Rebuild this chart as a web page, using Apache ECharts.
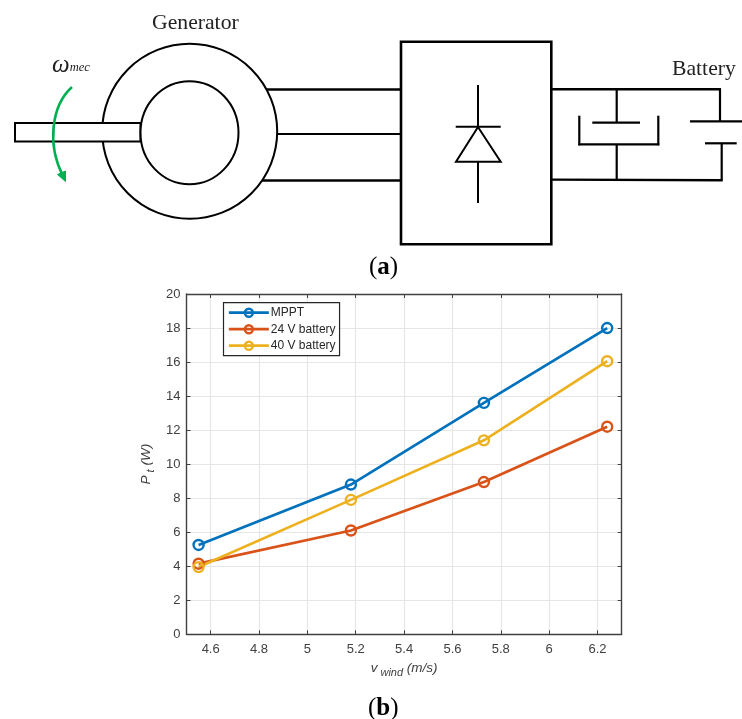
<!DOCTYPE html>
<html>
<head>
<meta charset="utf-8">
<style>html,body{margin:0;padding:0;background:#fff}#c{width:742px;height:719px}</style>
<script src="https://cdn.jsdelivr.net/npm/echarts@6/dist/echarts.min.js"></script>
</head>
<body>
<div id="c"></div>
<script>
const windSpeed = [4.55, 5.18, 5.73, 6.24];
const mppt = [5.25, 8.8, 13.6, 18.0];
const battery24 = [4.15, 6.1, 8.95, 12.2];
const battery40 = [3.95, 7.9, 11.4, 16.05];
const xTicks = [4.6, 4.8, 5, 5.2, 5.4, 5.6, 5.8, 6, 6.2];
const seriesNames = ['MPPT', '24 V battery', '40 V battery'];
const colors = ['#0072bd', '#d95319', '#edb120'];

const pair = ys => windSpeed.map((x, i) => [x, ys[i]]);
const makeSeries = (name, ys, color) => ({
  name, type: 'line', data: pair(ys), xAxisIndex: 0, yAxisIndex: 0,
  symbol: 'circle', symbolSize: 10, showSymbol: true,
  lineStyle: { color, width: 2.7 },
  itemStyle: { color: 'rgba(255,255,255,0)', borderColor: color, borderWidth: 2.4 },
  emphasis: { disabled: true }, animation: false
});

const ink = '#000';
const seg = (x1, y1, x2, y2, w) => ({ type: 'line', shape: { x1, y1, x2, y2 }, style: { stroke: ink, lineWidth: w || 2.2 }, silent: true });
const diagram = [
  seg(262, 89.5, 401, 89.5, 2.4), seg(276, 134, 401, 134, 2.2), seg(262, 180.5, 401, 180.5, 2.4),
  { type: 'circle', shape: { cx: 189.7, cy: 131.3, r: 87.5 }, style: { fill: '#fff', stroke: ink, lineWidth: 2 }, silent: true },
  { type: 'rect', shape: { x: 15, y: 123, width: 125.5, height: 18.5 }, style: { fill: '#fff', stroke: ink, lineWidth: 2 }, silent: true },
  { type: 'ellipse', shape: { cx: 189.5, cy: 132.7, rx: 49, ry: 51.5 }, style: { fill: '#fff', stroke: ink, lineWidth: 2 }, silent: true },
  { type: 'rect', shape: { x: 401, y: 41.7, width: 150.3, height: 202.6 }, style: { fill: '#fff', stroke: ink, lineWidth: 2.6 }, silent: true },
  seg(478, 85, 478, 127, 2), seg(455.7, 126.7, 500.7, 126.7, 2), seg(478, 161.7, 478, 203, 2),
  { type: 'polygon', shape: { points: [[478, 127], [456, 161.7], [500.7, 161.7]] }, style: { fill: 'none', stroke: ink, lineWidth: 2 }, silent: true },
  seg(551, 89.3, 721, 89.3, 2.4), seg(720, 89.3, 720, 121.3, 2.2), seg(690, 121.3, 742, 121.3, 2.2),
  seg(705, 143.3, 736.7, 143.3, 2.2), seg(721.7, 143.3, 721.7, 180.3, 2.2), seg(551, 179.6, 722.7, 180.3, 2.4),
  seg(616.7, 89.3, 616.7, 122.7, 2.2), seg(592.3, 122.7, 640, 122.7, 2.2),
  seg(579.3, 115.7, 579.3, 145.3, 2.2), seg(578.3, 144.3, 659.3, 144.3, 2.2), seg(658.3, 115.7, 658.3, 145.3, 2.2),
  seg(616.7, 144.3, 616.7, 180, 2.2),
  { type: 'bezierCurve', shape: { x1: 72, y1: 87, cpx1: 51, cpy1: 106, cpx2: 47, cpy2: 145, x2: 63, y2: 176 }, style: { fill: 'none', stroke: '#00b050', lineWidth: 2.6 }, silent: true, z: 5 },
  { type: 'polygon', shape: { points: [[65.5, 181.5], [57.5, 174.5], [65.5, 171]] }, style: { fill: '#00b050', stroke: '#00b050', lineWidth: 1 }, silent: true, z: 5 },
  { type: 'text', x: 152, y: 12, style: { text: 'Generator', font: '21.7px "Liberation Serif"', fill: '#222' }, silent: true },
  { type: 'text', x: 672, y: 58, style: { text: 'Battery', font: '21.7px "Liberation Serif"', fill: '#222' }, silent: true },
  { type: 'text', x: 52, y: 53, style: { text: '{w|ω}{m|mec}', rich: {
      w: { font: 'italic 25px "Liberation Serif"', fill: '#222' },
      m: { font: 'italic 12.5px "Liberation Serif"', fill: '#222', padding: [5, 0, 0, 0] } } }, silent: true },
  { type: 'text', x: 369, y: 255, style: { text: '{p|(}{b|a}{p|)}', rich: {
      p: { font: '25px "Liberation Serif"', fill: '#000' },
      b: { font: 'bold 25px "Liberation Serif"', fill: '#000' } } }, silent: true },
  { type: 'text', x: 368, y: 696, style: { text: '{p|(}{b|b}{p|)}', rich: {
      p: { font: '25px "Liberation Serif"', fill: '#000' },
      b: { font: 'bold 25px "Liberation Serif"', fill: '#000' } } }, silent: true }
];

const axisInk = '#404040';
const gridLine = { show: true, lineStyle: { color: '#e6e6e6', width: 1.2 } };
const sharedAxis = { axisLine: { show: true, onZero: false, lineStyle: { color: axisInk, width: 1.4 } } };
const nameRich = {
  i: { fontFamily: 'Liberation Sans', fontStyle: 'italic', fontSize: 13.5, color: axisInk },
  s: { fontFamily: 'Liberation Sans', fontStyle: 'italic', fontSize: 11, color: axisInk, padding: [9, 0, 0, 0] }
};

const chart = echarts.init(document.getElementById('c'), null, { renderer: 'canvas' });
chart.setOption({
  backgroundColor: '#fff',
  animation: false,
  graphic: diagram,
  grid: { left: 186.5, right: 120.3, top: 294, bottom: 84.7, containLabel: false },
  legend: {
    show: true, left: 223.5, top: 302.7, orient: 'vertical',
    data: seriesNames,
    itemWidth: 40, itemHeight: 10, itemGap: 4.5,
    padding: [4, 4, 4, 4],
    backgroundColor: '#fff', borderColor: '#262626', borderWidth: 1.2, borderRadius: 0,
    lineStyle: { width: 2.7 },
    itemStyle: { borderWidth: 2.4 },
    textStyle: { fontFamily: 'Liberation Sans', fontSize: 12, color: '#262626', padding: [0, 0, 0, -3] },
    selectedMode: false
  },
  xAxis: [
    { type: 'value', position: 'bottom', min: 4.5, max: 6.3, ...sharedAxis,
      name: '{i|v}{s| wind}{i| (m/s)}', nameLocation: 'middle', nameGap: 24, nameMoveOverlap: false, nameTextStyle: { rich: nameRich },
      axisTick: { show: true, inside: true, length: 4, lineStyle: { color: axisInk }, customValues: xTicks },
      axisLabel: { show: true, customValues: xTicks, margin: 9, fontFamily: 'Liberation Sans', fontSize: 13, color: axisInk, showMinLabel: true, showMaxLabel: true },
      splitLine: gridLine },
    { type: 'value', position: 'top', min: 4.5, max: 6.3, ...sharedAxis,
      axisTick: { show: true, inside: true, length: 4, lineStyle: { color: axisInk }, customValues: xTicks },
      axisLabel: { show: false }, splitLine: { show: false } }
  ],
  yAxis: [
    { type: 'value', position: 'left', min: 0, max: 20, interval: 2, ...sharedAxis,
      name: '{i|P}{s| t}{i| (W)}', nameLocation: 'middle', nameGap: 30, nameMoveOverlap: false, nameRotate: 90, nameTextStyle: { rich: nameRich },
      axisTick: { show: true, inside: true, length: 4, lineStyle: { color: axisInk } },
      axisLabel: { show: true, margin: 6, fontFamily: 'Liberation Sans', fontSize: 13, color: axisInk },
      splitLine: gridLine },
    { type: 'value', position: 'right', min: 0, max: 20, interval: 2, ...sharedAxis,
      axisTick: { show: true, inside: true, length: 4, lineStyle: { color: axisInk } },
      axisLabel: { show: false }, splitLine: { show: false } }
  ],
  series: [
    makeSeries(seriesNames[0], mppt, colors[0]),
    makeSeries(seriesNames[1], battery24, colors[1]),
    makeSeries(seriesNames[2], battery40, colors[2])
  ]
});
</script>
</body>
</html>
